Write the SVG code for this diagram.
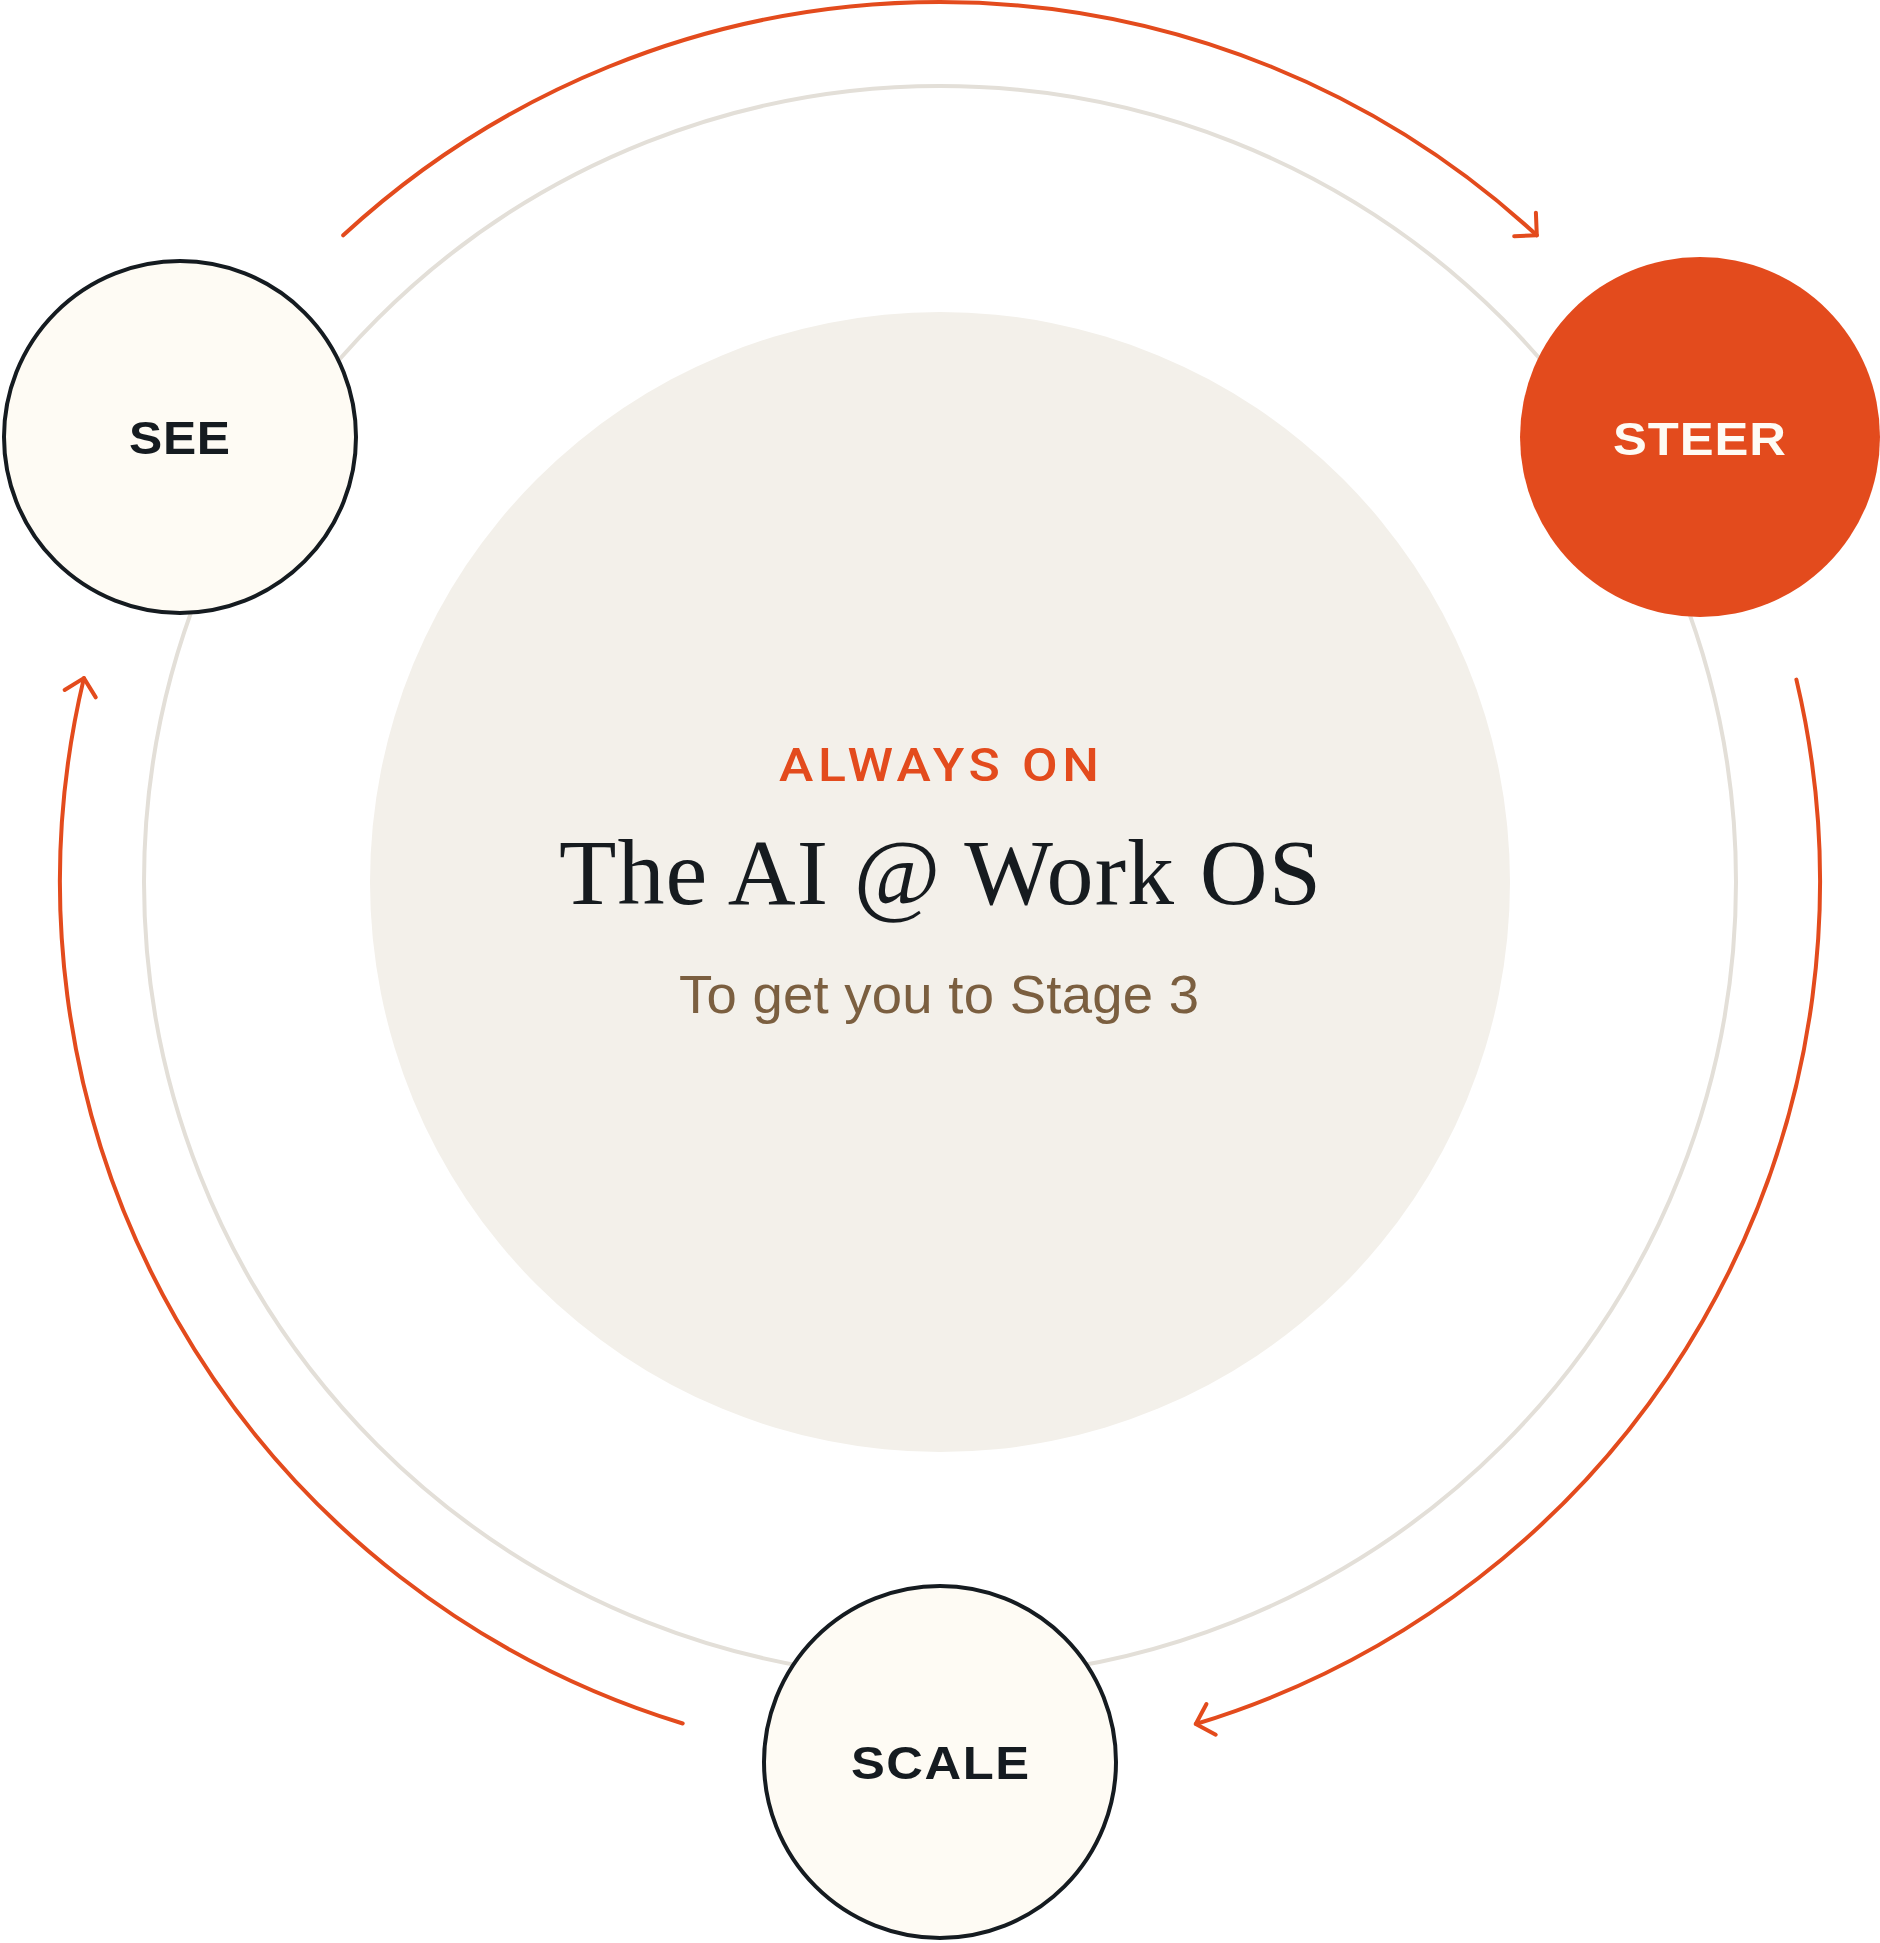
<svg xmlns="http://www.w3.org/2000/svg" width="1880" height="1943" viewBox="0 0 1880 1943">
  <style>
    .ring { fill: none; stroke: #E3DFD8; stroke-width: 4; }
    .flow { fill: none; stroke: #E34B1D; stroke-width: 4; stroke-linecap: round; marker-end: url(#arrow); }
    .node { fill: #FEFBF4; stroke: #151B20; stroke-width: 4; }
    .label { font-family: "Liberation Sans", Arial, sans-serif; font-weight: 700; font-size: 47px; text-anchor: middle; fill: #151B20; }
  </style>
  <defs>
    <marker id="arrow" markerUnits="userSpaceOnUse" viewBox="-24 -24 48 48" markerWidth="48" markerHeight="48" refX="0" refY="0" orient="auto" overflow="visible">
      <path d="M -16 -16 L 0 0 L -16 16" fill="none" stroke="#E34B1D" stroke-width="4" stroke-linecap="round" stroke-linejoin="round"/>
    </marker>
  </defs>
  <rect width="1880" height="1943" fill="#FFFFFF"/>
  <circle class="ring" cx="940" cy="882" r="796"/>
  <g id="center">
    <circle cx="940" cy="882" r="570" fill="#F3F0EA"/>
    <text transform="translate(939,781) scale(1.1,1)" x="0" y="0" font-family="Roboto, 'Liberation Sans', sans-serif" font-weight="500" font-size="47" fill="#E34B1D" text-anchor="middle" textLength="291" lengthAdjust="spacing">ALWAYS ON</text>
    <text x="940" y="904" font-family="'Liberation Serif', 'Times New Roman', serif" font-size="94" fill="#161B1F" text-anchor="middle" textLength="762" lengthAdjust="spacing">The AI @ Work OS</text>
    <text x="939" y="1013" font-family="'Liberation Sans', Arial, sans-serif" font-size="54.5" fill="#7B5F40" text-anchor="middle" textLength="520" lengthAdjust="spacing">To get you to Stage 3</text>
  </g>
  <g id="connectors">
    <path class="flow" d="M 343.2 235.3 A 880 880 0 0 1 1536.8 235.3"/>
    <path class="flow" d="M 1796.4 679.6 A 880 880 0 0 1 1195.8 1724"/>
    <path class="flow" d="M 682.7 1723.5 A 880 880 0 0 1 83.9 678.1"/>
  </g>
  <g id="see">
    <circle class="node" cx="180" cy="437" r="176"/>
    <text class="label" transform="translate(179.5,454) scale(1.06,1)" x="0" y="0" textLength="95.3" lengthAdjust="spacing">SEE</text>
  </g>
  <g id="steer">
    <circle cx="1700" cy="437" r="180" fill="#E34B1D"/>
    <text class="label" transform="translate(1699.5,455) scale(1.08,1)" x="0" y="0" style="fill:#FEFBF4" textLength="160" lengthAdjust="spacing">STEER</text>
  </g>
  <g id="scale">
    <circle class="node" cx="940" cy="1762" r="176"/>
    <text class="label" transform="translate(940,1779) scale(1.08,1)" x="0" y="0" textLength="164.8" lengthAdjust="spacing">SCALE</text>
  </g>
</svg>
